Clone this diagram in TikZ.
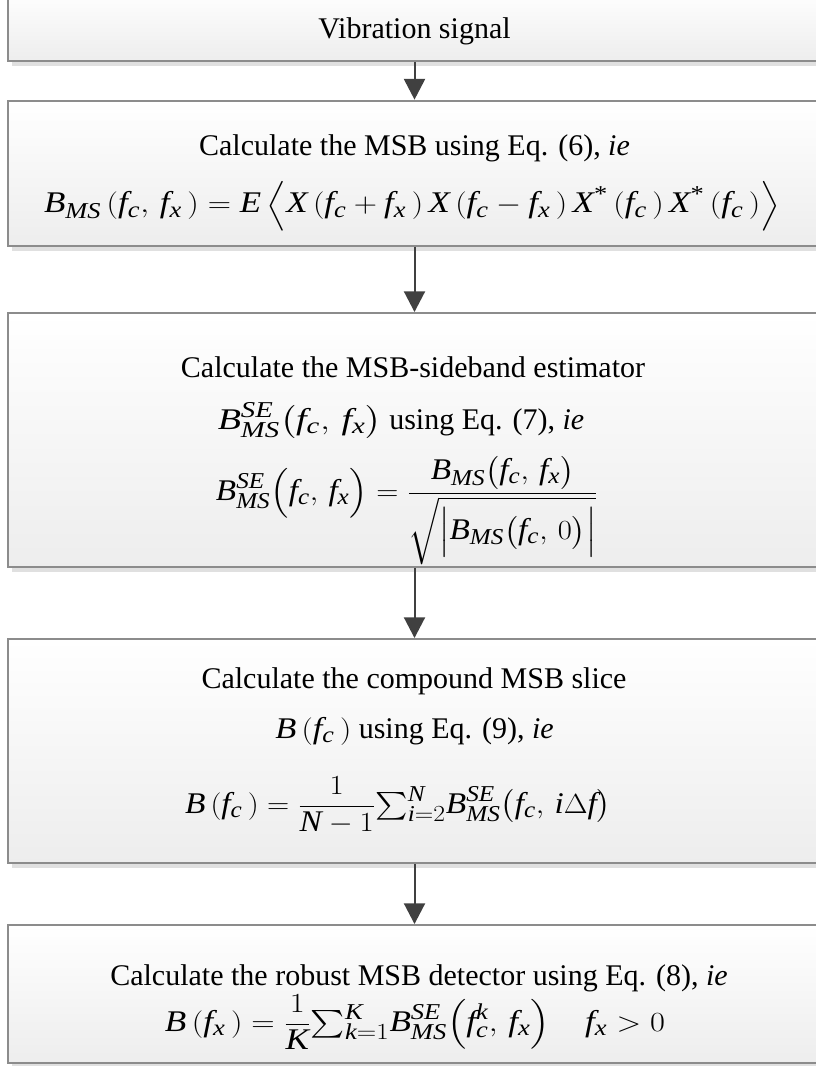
\documentclass[tikz,border=0pt]{standalone}
\usepackage{amsmath}
\usepackage{graphicx}
\usepackage{fontspec}
\setmainfont{Liberation Serif}
\usetikzlibrary{arrows.meta,shadows}

% Times-like letters and digits in math
\DeclareSymbolFont{lettersit}{TU}{\rmdefault}{m}{it}
\DeclareSymbolFont{digitsup}{TU}{\rmdefault}{m}{n}
\newcommand\itletters[1]{\DeclareMathSymbol{#1}{\mathalpha}{lettersit}{`#1}}
\newcommand\updigits[1]{\DeclareMathSymbol{#1}{\mathalpha}{digitsup}{`#1}}
\itletters{B}\itletters{M}\itletters{S}\itletters{E}\itletters{X}\itletters{N}\itletters{K}
\itletters{f}\itletters{c}\itletters{x}\itletters{i}\itletters{k}
\updigits{0}\updigits{1}\updigits{2}
\DeclareMathSizes{22.5}{22.5}{17}{13}
\newcommand\cs{,\,}
\newcommand\gp{\mkern3mu}
% formula set wide, at its natural height
\newcommand\eqbox[2]{\resizebox{#1}{\height}{$\displaystyle #2$}}

\begin{document}
\begin{tikzpicture}[
    x=0.75pt, y=-0.75pt,
    font=\fontsize{22.5}{27}\selectfont,
    stage/.style={rectangle, draw=black!45, line width=1.5pt, inner sep=0pt,
        top color=white, bottom color=black!7, minimum width=610pt, minimum height=#1,
        drop shadow={shadow xshift=3pt, shadow yshift=-3.5pt, fill=black!12, opacity=1}},
    flow/.style={draw=black!75, line width=1.5pt, -{Triangle[width=15.75pt, length=15.5pt]}},
    line/.style={anchor=base, inner sep=0pt}
]
  \useasboundingbox (0,0) rectangle (815,1066);

  % Processing stages, top to bottom.
  \node[stage=53.25pt] (vib)   at (414.5, 25.5) {};
  \node[stage=109pt]   (msb)   at (414.5, 173.3) {};
  \node[stage=190.5pt] (sbe)   at (414.5, 440) {};
  \node[stage=168pt]   (slice) at (414.5, 751) {};
  \node[stage=103.5pt] (det)   at (414.5, 994) {};

  \foreach \a/\b in {vib/msb, msb/sbe, sbe/slice, slice/det}
    \draw[flow] (\a.south) -- (\b.north);

  % Text of each stage.
  \node[line] (vibtxt) at (414.5, 39) {Vibration signal};

  \node[line] (msbtxt) at (414.5, 156) {Calculate the MSB using Eq. (6), \textit{ie}};
  \node[line] (msbeq) at (412, 213) {\eqbox{552pt}{B_{MS}\gp(f_c\cs f_x\gp)=E\gp\Bigl\langle X\gp(f_c+f_x\gp)\gp
    X\gp(f_c-f_x\gp)\gp X^{\textup{*}}\gp(f_c\gp)\gp X^{\textup{*}}\gp(f_c\gp)\Bigr\rangle}};

  \node[line] (sbetxt) at (413, 377) {Calculate the MSB-sideband estimator};
  \node[line] (sbeuse) at (401, 429) {\eqbox{123pt}{B_{MS}^{SE}\bigl(f_c\cs f_x\bigr)} using Eq. (7), \textit{ie}};
  \node[line] (sbeeq) at (407, 500) {\eqbox{286.5pt}{B_{MS}^{SE}\Bigl(f_c\cs f_x\Bigr)=
    \frac{B_{MS}\bigl(f_c\cs f_x\bigr)}{\sqrt{\Bigl|B_{MS}\bigl(f_c\cs 0\bigr)\Bigr|}}}};

  \node[line] (slicetxt) at (414, 688) {Calculate the compound MSB slice};
  \node[line] (sliceuse) at (414.5, 738) {\eqbox{57pt}{B\gp(f_c\gp)} using Eq. (9), \textit{ie}};
  \node[line] (sliceeq) at (398, 813) {\eqbox{319.5pt}{B\gp(f_c\gp)=
    \frac{1}{N-1}{\textstyle\sum_{i=2}^{N}}B_{MS}^{SE}\bigl(f_c\cs i\Delta f\bigr)}};

  \node[line] (dettxt) at (419, 985) {Calculate the robust MSB detector using Eq. (8), \textit{ie}};
  \node[line] (deteq) at (415, 1031) {\eqbox{375pt}{B\gp(f_x\gp)=
    \frac{1}{K}{\textstyle\sum_{k=1}^{K}}B_{MS}^{SE}\Bigl(f_c^{k}\cs f_x\Bigr)\quad f_x>0}};
\end{tikzpicture}
\end{document}
